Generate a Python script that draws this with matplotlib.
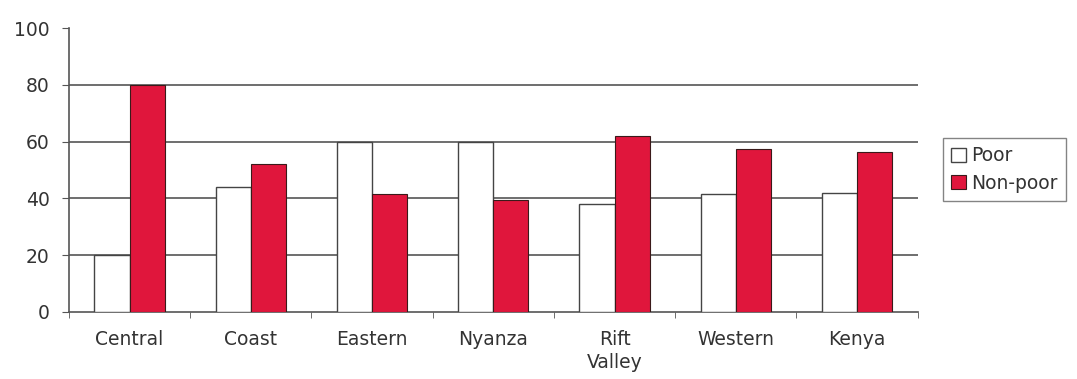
import numpy as np
import matplotlib.pyplot as plt

# Data
regions = ["Central", "Coast", "Eastern", "Nyanza", "Rift\nValley", "Western", "Kenya"]
poor = [20, 44, 60, 60, 38, 41.5, 42]
non_poor = [80, 52, 41.5, 39.5, 62, 57.5, 56.5]
yticks = [0, 20, 40, 60, 80, 100]

plt.rcParams["font.family"] = ["DejaVu Sans"]

fig = plt.figure(figsize=(10.77, 3.79), dpi=100)
ax = fig.add_axes([0.064, 0.177, 0.788, 0.749])

x = np.arange(len(regions))
w = 0.29
ax.bar(x - w / 2, poor, w, color="white", edgecolor="#444444", linewidth=1.0,
       label="Poor", zorder=3)
ax.bar(x + w / 2, non_poor, w, color="#e0163c", edgecolor="#3a1a1a", linewidth=0.8,
       label="Non-poor", zorder=3)

ax.set_xlim(-0.5, len(regions) - 0.5)
ax.set_ylim(0, 100)
ax.set_yticks(yticks)
for v in yticks[1:-1]:
    ax.axhline(v, color="#555555", linewidth=1.2, zorder=1)

ax.set_xticks(x)
ax.set_xticklabels(regions, fontsize=13.5, color="#333333", linespacing=1.25)
ax.set_xticks(np.arange(len(regions) + 1) - 0.5, minor=True)
ax.tick_params(axis="x", which="major", length=0, pad=13)
ax.tick_params(axis="x", which="minor", length=4, color="#555555")
ax.tick_params(axis="y", length=5, pad=9, labelsize=13.5, labelcolor="#333333", color="#555555")

for s in ["top", "right"]:
    ax.spines[s].set_visible(False)
for s in ["left", "bottom"]:
    ax.spines[s].set_color("#555555")
    ax.spines[s].set_linewidth(1.2)

leg = fig.legend(loc="upper left", bbox_to_anchor=(0.8756, 0.636), fontsize=13.5,
                 frameon=True, fancybox=False, handlelength=0.75, handleheight=0.75,
                 handletextpad=0.3, borderpad=0.45, labelspacing=0.45, borderaxespad=0)
leg.get_frame().set_edgecolor("#666666")
leg.get_frame().set_linewidth(1.0)
for t in leg.get_texts():
    t.set_color("#333333")

fig.savefig("out.png", dpi=100)
